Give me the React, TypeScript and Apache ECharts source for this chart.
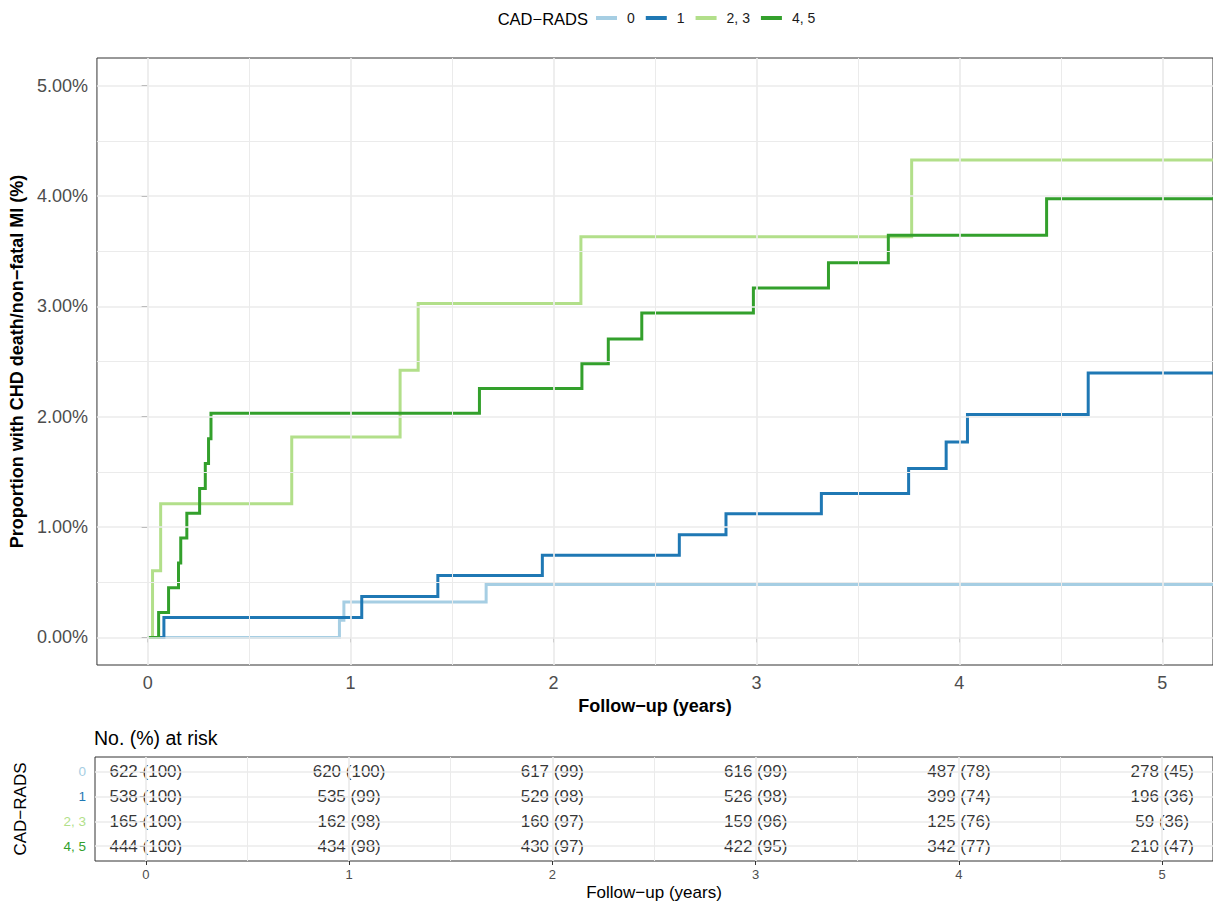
import React, { useEffect, useRef } from "react";
import * as echarts from "echarts";

// ---------- data ----------
const CATEGORIES = ["0", "1", "2, 3", "4, 5"];
const COLORS = ["#A6CEE3", "#1F78B4", "#B2DF8A", "#33A02C"];

const TIMES_0 = [0, 0.945, 0.967, 1.668, 5.25];
const RISK_0 = [0, 0.155, 0.32, 0.48, 0.48];

const TIMES_1 = [0, 0.08, 1.055, 1.43, 1.945, 2.62, 2.85, 3.32, 3.75, 3.935, 4.04, 4.635, 5.25];
const RISK_1 = [0, 0.18, 0.37, 0.56, 0.745, 0.93, 1.12, 1.305, 1.53, 1.77, 2.02, 2.395, 2.395];

const TIMES_23 = [0, 0.024, 0.064, 0.71, 1.244, 1.333, 2.135, 3.765, 5.25];
const RISK_23 = [0, 0.605, 1.21, 1.815, 2.42, 3.025, 3.63, 4.325, 4.325];

const TIMES_45 = [0, 0.054, 0.103, 0.152, 0.163, 0.193, 0.256, 0.284, 0.3, 0.312, 1.635, 2.14, 2.27, 2.435, 2.985, 3.355, 3.65, 4.43, 5.25];
const RISK_45 = [0, 0.225, 0.45, 0.675, 0.9, 1.125, 1.35, 1.575, 1.8, 2.03, 2.255, 2.48, 2.705, 2.94, 3.165, 3.395, 3.645, 3.975, 3.975];

const X_TICKS = [0, 1, 2, 3, 4, 5];
const X_MINOR = [0.5, 1.5, 2.5, 3.5, 4.5];
const Y_TICKS = [0, 1, 2, 3, 4, 5];
const Y_MINOR = [0.5, 1.5, 2.5, 3.5, 4.5];

const RISK_TIMES = [0, 1, 2, 3, 4, 5];
const N_0 = [622, 620, 617, 616, 487, 278];
const PCT_0 = [100, 100, 99, 99, 78, 45];
const N_1 = [538, 535, 529, 526, 399, 196];
const PCT_1 = [100, 99, 98, 98, 74, 36];
const N_23 = [165, 162, 160, 159, 125, 59];
const PCT_23 = [100, 98, 97, 96, 76, 36];
const N_45 = [444, 434, 430, 422, 342, 210];
const PCT_45 = [100, 98, 97, 95, 77, 47];

// ---------- helpers ----------
const FONT = "'Liberation Sans', Arial, Helvetica, sans-serif";
const GRID_COLOR = "#EBEBEB";

const zip = (xs: number[], ys: number[]) => xs.map((x, i) => [x, ys[i]]);

function buildOption() {
  const curves = [
    zip(TIMES_0, RISK_0),
    zip(TIMES_1, RISK_1),
    zip(TIMES_23, RISK_23),
    zip(TIMES_45, RISK_45),
  ];
  const counts = [N_0, N_1, N_23, N_45];
  const pcts = [PCT_0, PCT_1, PCT_23, PCT_45];

  const tableData: any[] = [];
  counts.forEach((ns, i) => {
    RISK_TIMES.forEach((t, j) => {
      tableData.push([t, i + 1, `${ns[j]} (${pcts[i][j]})`]);
    });
  });

  const major = { color: GRID_COLOR, width: 1.7, type: "solid" };
  const minor = { color: GRID_COLOR, width: 1.0, type: "solid" };

  const mainGridLines = [
    ...X_MINOR.map((v) => ({ xAxis: v, lineStyle: minor })),
    ...Y_MINOR.map((v) => ({ yAxis: v, lineStyle: minor })),
    ...X_TICKS.map((v) => ({ xAxis: v, lineStyle: major })),
    ...Y_TICKS.map((v) => ({ yAxis: v, lineStyle: major })),
  ];
  const tableGridLines = [
    ...X_MINOR.map((v) => ({ xAxis: v, lineStyle: minor })),
    ...X_TICKS.map((v) => ({ xAxis: v, lineStyle: major })),
    ...CATEGORIES.map((_, i) => ({ yAxis: i + 1, lineStyle: major })),
  ];

  const rich: any = {};
  CATEGORIES.forEach((_, i) => {
    rich["c" + i] = { color: COLORS[i], fontSize: 13.5, fontFamily: FONT };
  });

  return {
    animation: false,
    textStyle: { fontFamily: FONT },
    legend: {
      left: 596,
      top: 11,
      padding: 0,
      itemWidth: 21,
      itemHeight: 4,
      itemGap: 11,
      icon: "rect",
      data: CATEGORIES,
      textStyle: { fontSize: 14, color: "#1a1a1a", fontFamily: FONT, padding: [0, 0, 0, 5] },
    },
    graphic: [
      {
        type: "text",
        x: 588,
        y: 19,
        style: {
          text: "CAD−RADS",
          align: "right",
          verticalAlign: "middle",
          fontSize: 16.5,
          fontFamily: FONT,
          fill: "#000",
        },
      },
      {
        type: "text",
        x: 94,
        y: 738,
        style: {
          text: "No. (%) at risk",
          align: "left",
          verticalAlign: "middle",
          fontSize: 19.5,
          fontFamily: FONT,
          fill: "#000",
        },
      },
    ],
    grid: [
      { left: 95, top: 58, width: 1125, height: 607, show: true, borderColor: "#333333", borderWidth: 1, backgroundColor: "transparent" },
      { left: 95, top: 757, width: 1125, height: 104, show: true, borderColor: "#333333", borderWidth: 1, backgroundColor: "transparent" },
    ],
    xAxis: [
      {
        type: "value",
        gridIndex: 0,
        min: -0.25,
        max: 5.25,
        name: "Follow−up (years)",
        nameLocation: "middle",
        nameGap: 30,
        nameTextStyle: { fontSize: 18, fontWeight: "bold", color: "#000", fontFamily: FONT },
        axisLine: { show: false },
        axisTick: { show: true, customValues: X_TICKS, length: 5, lineStyle: { color: "#333333", width: 1 } },
        axisLabel: { customValues: X_TICKS, fontSize: 18, color: "#4D4D4D", margin: 9, fontFamily: FONT },
        splitLine: { show: false },
      },
      {
        type: "value",
        gridIndex: 1,
        min: -0.25,
        max: 5.25,
        name: "Follow−up (years)",
        nameLocation: "middle",
        nameGap: 23,
        nameTextStyle: { fontSize: 17, color: "#000", fontFamily: FONT },
        axisLine: { show: false },
        axisTick: { show: true, customValues: X_TICKS, length: 4, lineStyle: { color: "#333333", width: 1 } },
        axisLabel: { customValues: X_TICKS, fontSize: 13, color: "#4D4D4D", margin: 7, fontFamily: FONT },
        splitLine: { show: false },
      },
    ],
    yAxis: [
      {
        type: "value",
        gridIndex: 0,
        min: -0.25,
        max: 5.25,
        name: "Proportion with CHD death/non−fatal MI (%)",
        nameLocation: "middle",
        nameGap: 68,
        nameTextStyle: { fontSize: 18, fontWeight: "bold", color: "#000", fontFamily: FONT },
        axisLine: { show: false },
        axisTick: { show: true, customValues: Y_TICKS, length: 6, lineStyle: { color: "#333333", width: 1 } },
        axisLabel: {
          customValues: Y_TICKS,
          fontSize: 18,
          color: "#4D4D4D",
          margin: 9,
          fontFamily: FONT,
          formatter: (v: number) => v.toFixed(2) + "%",
        },
        splitLine: { show: false },
      },
      {
        type: "value",
        gridIndex: 1,
        min: 0.4,
        max: 4.6,
        inverse: true,
        name: "CAD−RADS",
        nameLocation: "middle",
        nameGap: 66,
        nameTextStyle: { fontSize: 17, color: "#000", fontFamily: FONT },
        axisLine: { show: false },
        axisTick: { show: true, customValues: [1, 2, 3, 4], length: 6, lineStyle: { color: "#333333", width: 1 } },
        axisLabel: {
          customValues: [1, 2, 3, 4],
          margin: 9,
          formatter: (v: number) => {
            const i = Math.round(v) - 1;
            return `{c${i}|${CATEGORIES[i]}}`;
          },
          rich,
        },
        splitLine: { show: false },
      },
    ],
    series: [
      {
        type: "line",
        name: "__grid_main",
        xAxisIndex: 0,
        yAxisIndex: 0,
        data: [],
        silent: true,
        z: 1,
        markLine: { silent: true, symbol: ["none", "none"], label: { show: false }, animation: false, data: mainGridLines },
      },
      {
        type: "line",
        name: "__grid_table",
        xAxisIndex: 1,
        yAxisIndex: 1,
        data: [],
        silent: true,
        z: 1,
        markLine: { silent: true, symbol: ["none", "none"], label: { show: false }, animation: false, data: tableGridLines },
      },
      ...CATEGORIES.map((name, i) => ({
        type: "line",
        name,
        xAxisIndex: 0,
        yAxisIndex: 0,
        step: "end",
        showSymbol: false,
        symbol: "none",
        clip: true,
        z: 3,
        color: COLORS[i],
        lineStyle: { color: COLORS[i], width: 3, join: "miter", cap: "butt" },
        data: curves[i],
      })),
      {
        type: "scatter",
        name: "__table",
        xAxisIndex: 1,
        yAxisIndex: 1,
        symbolSize: 1,
        z: 4,
        silent: true,
        itemStyle: { color: "rgba(0,0,0,0)" },
        label: {
          show: true,
          position: "inside",
          formatter: (p: any) => p.data[2],
          fontSize: 17,
          color: "#000",
          textBorderWidth: 0,
          textBorderColor: "transparent",
          fontFamily: FONT,
        },
        data: tableData,
      },
    ],
  };
}

export default function App() {
  const ref = useRef<HTMLDivElement>(null);
  useEffect(() => {
    if (!ref.current) return;
    const chart = echarts.init(ref.current, undefined, { renderer: "svg" });
    chart.setOption(buildOption() as any);
    return () => chart.dispose();
  }, []);
  return (
    <div
      ref={ref}
      style={{ position: "fixed", left: 0, top: 0, width: 1213, height: 903, background: "#fff" }}
    />
  );
}
